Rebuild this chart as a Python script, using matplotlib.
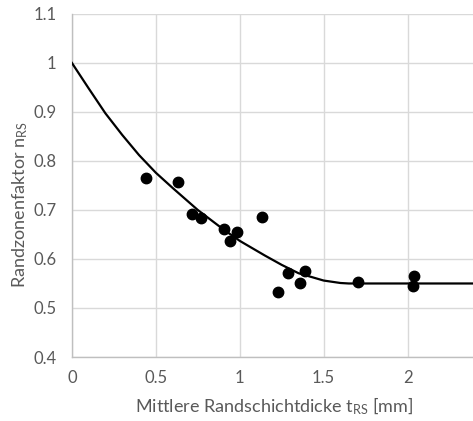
import matplotlib
matplotlib.use("Agg")
import matplotlib.pyplot as plt

# measured points
dicke = [0.44, 0.63, 0.715, 0.77, 0.905, 0.94, 0.985, 1.13, 1.23, 1.285, 1.36, 1.39, 1.705, 2.04, 2.035]
faktor = [0.765, 0.757, 0.692, 0.684, 0.662, 0.637, 0.655, 0.686, 0.532, 0.572, 0.550, 0.576, 0.554, 0.566, 0.544]

# trend curve
kurve_x = [0, 0.1, 0.2, 0.3, 0.4, 0.5, 0.6, 0.75, 0.9, 1.0, 1.15, 1.25, 1.35, 1.5, 1.6, 1.65, 1.75, 2.4]
kurve_y = [1.0, 0.948, 0.897, 0.853, 0.812, 0.776, 0.745, 0.700, 0.661, 0.637, 0.607, 0.588, 0.571, 0.556, 0.551, 0.550, 0.550, 0.550]

xticks = [0, 0.5, 1, 1.5, 2]
xlabels = ["0", "0.5", "1", "1.5", "2"]
yticks = [0.4, 0.5, 0.6, 0.7, 0.8, 0.9, 1.0, 1.1]
ylabels = ["0.4", "0.5", "0.6", "0.7", "0.8", "0.9", "1", "1.1"]

plt.rcParams['font.family'] = ['Lato', 'DejaVu Sans']
plt.rcParams['mathtext.default'] = 'regular'
grau = '#595959'

fig = plt.figure(figsize=(4.73, 4.21), dpi=100)
ax = fig.add_axes([0.152, 0.152, 0.848, 0.815])

ax.plot(kurve_x, kurve_y, color='black', lw=1.6, zorder=3)
ax.plot(dicke, faktor, 'o', color='black', ms=7.5, zorder=4)

ax.set_xlim(0, 2.39)
ax.set_ylim(0.4, 1.1)
ax.set_xticks(xticks, xlabels)
ax.set_yticks(yticks, ylabels)
ax.grid(True, color='#d9d9d9', lw=1.0)
ax.set_axisbelow(True)
ax.tick_params(length=0, labelsize=12, labelcolor=grau)
ax.tick_params(axis='y', pad=11)
ax.tick_params(axis='x', pad=9)
for s in ['top', 'right']:
    ax.spines[s].set_visible(False)
for s in ['left', 'bottom']:
    ax.spines[s].set_color('#bfbfbf')
    ax.spines[s].set_linewidth(1.0)

ax.set_xlabel('Mittlere Randschichtdicke t$_{RS}$ [mm]', fontsize=13, color=grau)
ax.set_ylabel('Randzonenfaktor n$_{RS}$', fontsize=13, color=grau)
# label positions in figure pixels, as in the reference
ax.xaxis.set_label_coords(274 / 473, 1 - 406 / 421, transform=fig.transFigure)
ax.xaxis.label.set_va('center')
ax.yaxis.set_label_coords(20 / 473, 1 - 205 / 421, transform=fig.transFigure)
ax.yaxis.label.set_va('center')

fig.savefig('out.png', dpi=100)
